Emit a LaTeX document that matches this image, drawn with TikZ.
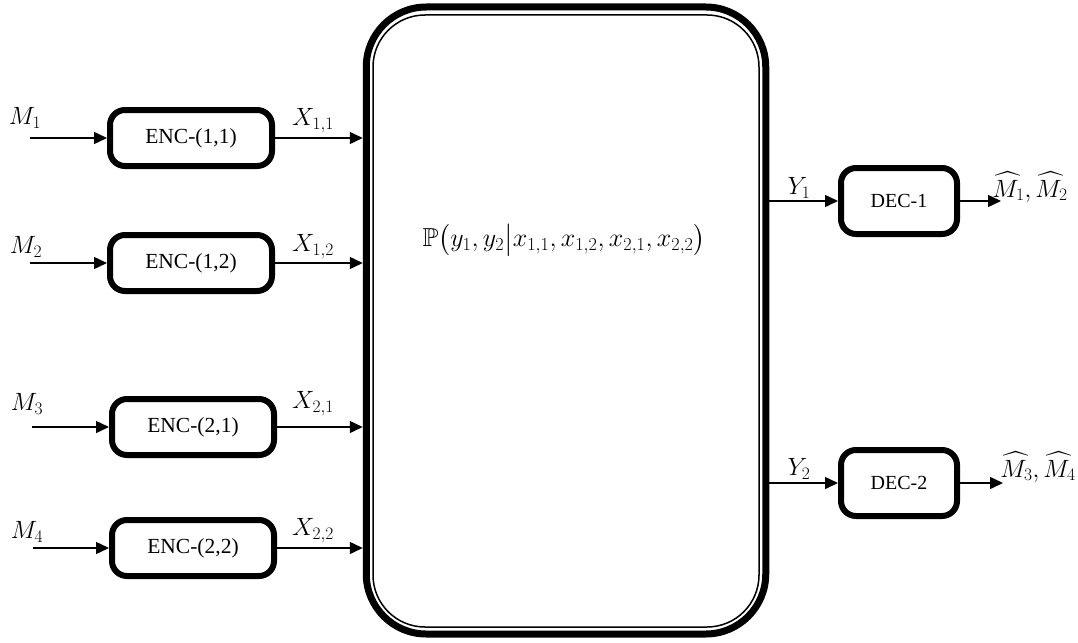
\RequirePackage{fix-cm}
\documentclass[tikz,border=0pt]{standalone}
\usepackage{amsmath,amssymb}
\usepackage{fontspec}
\setmainfont{Liberation Serif}
\usetikzlibrary{arrows.meta}
\begin{document}
\begin{tikzpicture}[x=1pt,y=-1pt,
  blk/.style={draw, line width=6pt, rounded corners=15pt, minimum width=162pt, minimum height=56pt, inner sep=0pt, font=\fontsize{21.5}{25}\selectfont},
  dec/.style={blk, minimum width=116pt, minimum height=66pt, font=\fontsize{20}{24}\selectfont},
  arr/.style={-{Triangle[length=13pt,width=12pt]}, line width=1.5pt},
  lab/.style={font=\fontsize{25}{30}\selectfont, inner sep=0pt}]
\useasboundingbox (0,0) rectangle (1078,642);
% channel
\node[draw, line width=7pt, rounded corners=60pt, minimum width=399.5pt, minimum height=627pt, inner sep=0pt] (ch) at (566,320.5) {};
\draw[line width=1.5pt, rounded corners=52pt] (373,15) rectangle (759,627);
\node[lab, font=\fontsize{26}{31}\selectfont] (f) at (564,240) {$\mathbb{P}\bigl(y_1,y_2\big|x_{1,1},x_{1,2},x_{2,1},x_{2,2}\bigr)$};
% encoders
\node[blk] (e11) at (191,138) {ENC-(1,1)};
\node[blk] (e12) at (191,263) {ENC-(1,2)};
\node[blk] (e21) at (193,427) {ENC-(2,1)};
\node[blk] (e22) at (193,548) {ENC-(2,2)};
% decoders
\node[dec] (d1) at (899,201) {DEC-1};
\node[dec] (d2) at (899,483) {DEC-2};
% inputs
\coordinate (s1) at (30,138);
\coordinate (s2) at (30,263);
\coordinate (s3) at (32,427);
\coordinate (s4) at (33,548);
\draw[arr] (s1) -- (e11.west);
\draw[arr] (s2) -- (e12.west);
\draw[arr] (s3) -- (e21.west);
\draw[arr] (s4) -- (e22.west);
\node[lab] (m1) at (25,118) {$M_1$};
\node[lab] (m2) at (26,247) {$M_2$};
\node[lab] (m3) at (27,404) {$M_3$};
\node[lab] (m4) at (27,532) {$M_4$};
% encoder outputs
\draw[arr] (e11.east) -- (e11.east -| ch.west);
\draw[arr] (e12.east) -- (e12.east -| ch.west);
\draw[arr] (e21.east) -- (e21.east -| ch.west);
\draw[arr] (e22.east) -- (e22.east -| ch.west);
\node[lab] (x11) at (313,121) {$X_{1,1}$};
\node[lab] (x12) at (313,247) {$X_{1,2}$};
\node[lab] (x21) at (313,404) {$X_{2,1}$};
\node[lab] (x22) at (313,531) {$X_{2,2}$};
% channel outputs
\draw[arr] (d1.west -| ch.east) -- (d1.west);
\draw[arr] (d2.west -| ch.east) -- (d2.west);
\node[lab] (y1) at (799,188) {$Y_1$};
\node[lab] (y2) at (799,469) {$Y_2$};
% decoder outputs
\coordinate (o1) at (1001,201);
\coordinate (o2) at (1003,483);
\draw[arr] (d1.east) -- (o1);
\draw[arr] (d2.east) -- (o2);
\node[lab] (h1) at (1030,187) {$\widehat{M}_1,\widehat{M}_2$};
\node[lab] (h2) at (1038,467) {$\widehat{M}_3,\widehat{M}_4$};
\end{tikzpicture}
\end{document}
